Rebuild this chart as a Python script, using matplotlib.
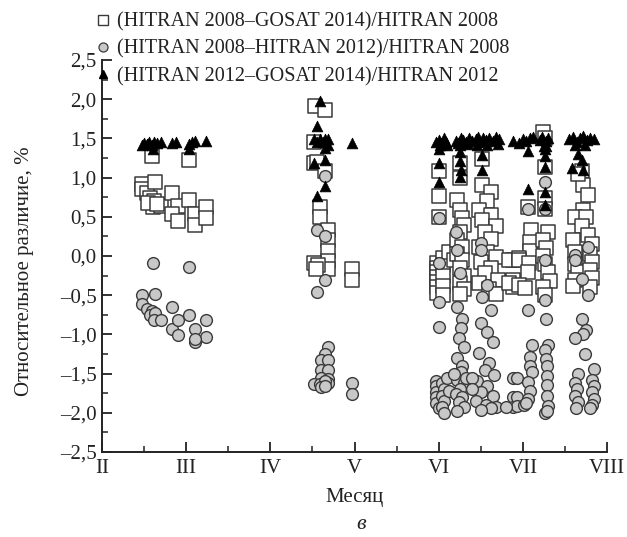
import matplotlib
matplotlib.use("Agg")
import matplotlib.pyplot as plt
from matplotlib.lines import Line2D
from matplotlib.ticker import MultipleLocator, FixedLocator, FuncFormatter

plt.rcParams['font.family'] = ['Liberation Serif', 'DejaVu Serif']

# ---------------- data (month as number: II=2 ... VIII=8, value in %) ----------------
month_ticks = [2, 3, 4, 5, 6, 7, 8]
month_labels = ["II", "III", "IV", "V", "VI", "VII", "VIII"]

labels = ["(HITRAN 2008–GOSAT 2014)/HITRAN 2008",
          "(HITRAN 2008–HITRAN 2012)/HITRAN 2008",
          "(HITRAN 2012–GOSAT 2014)/HITRAN 2012"]

# squares: (HITRAN 2008 - GOSAT 2014)/HITRAN 2008
sq_x = [2.59, 3.03, 2.47, 2.47, 2.53, 2.63, 2.57, 2.62, 2.60, 2.70, 2.83, 2.90, 2.83, 2.90,
        3.03, 3.10, 3.10, 3.23, 3.23, 2.55, 2.65,
        4.53, 4.65, 4.52, 4.52, 4.56, 4.65, 4.59, 4.59, 4.69, 4.69, 4.69, 4.69, 4.69, 4.52,
        4.57, 4.54, 4.97, 4.97,
        6.00, 6.00, 6.00, 5.98, 5.98, 5.98, 5.98, 5.98, 5.98, 5.98, 6.05, 6.05, 6.05, 6.05,
        6.05, 6.12, 6.18,
        6.25, 6.25, 6.22, 6.25, 6.28, 6.30, 6.25, 6.22, 6.28, 6.22, 6.28, 6.25, 6.30, 6.25,
        6.30, 6.25,
        6.52, 6.52, 6.62, 6.58, 6.48, 6.62, 6.52, 6.68, 6.55, 6.62, 6.48, 6.58, 6.68, 6.50,
        6.62, 6.55, 6.70, 6.48, 6.60, 6.68,
        6.88, 6.88, 6.88, 6.84, 6.84,
        7.10, 7.08, 7.08, 6.96, 6.96, 7.07, 7.06, 6.96, 7.03, 7.06,
        7.24, 7.26, 7.26, 7.26, 7.30, 7.24, 7.28, 7.24, 7.26, 7.30, 7.32, 7.24, 7.26, 7.26,
        7.70, 7.72, 7.78, 7.72, 7.62, 7.75, 7.70, 7.78, 7.60, 7.82, 7.62, 7.80, 7.62, 7.82,
        7.65, 7.80, 7.62, 7.82, 7.60, 7.80, 7.66]
sq_y = [1.27, 1.23, 0.92, 0.86, 0.80, 0.94, 0.74, 0.70, 0.63, 0.64, 0.80, 0.64, 0.53, 0.44,
        0.72, 0.53, 0.40, 0.63, 0.48, 0.68, 0.66,
        1.91, 1.86, 1.46, 1.19, 1.20, 1.08, 0.63, 0.50, 0.33, 0.21, 0.06, -0.07, -0.16, -0.09,
        -0.12, -0.16, -0.16, -0.31,
        1.08, 0.76, 0.50, -0.09, -0.15, -0.21, -0.27, -0.33, -0.40, -0.47, -0.02, -0.12, -0.25,
        -0.38, -0.50, 0.05, -0.05,
        1.19, 1.00, 0.72, 0.59, 0.49, 0.40, 0.30, 0.20, 0.12, 0.02, -0.05, -0.15, -0.25, -0.35,
        -0.42, -0.48,
        1.24, 0.91, 0.82, 0.70, 0.59, 0.52, 0.46, 0.38, 0.30, 0.22, 0.12, 0.05, -0.01, -0.08,
        -0.15, -0.22, -0.30, -0.35, -0.42, -0.48,
        -0.05, -0.31, -0.40, -0.05, -0.35,
        0.33, 0.18, 0.06, -0.03, -0.05, -0.09, -0.21, -0.37, -0.41, 0.63,
        1.58, 1.13, 0.74, 0.60, 0.31, 0.20, 0.10, 0.00, -0.10, -0.20, -0.32, -0.40, -0.50, 1.50,
        1.08, 0.91, 0.78, 0.59, 0.50, 0.50, 0.38, 0.27, 0.20, 0.15, 0.05, 0.02, -0.10, -0.08,
        -0.20, -0.18, -0.30, -0.28, -0.38, -0.40, 1.05]

# circles: (HITRAN 2008 - HITRAN 2012)/HITRAN 2008
ci_x = [2.60, 3.03, 2.47, 2.63, 2.47, 2.53, 2.59, 2.57, 2.63, 2.62, 2.70, 2.83, 2.83, 2.90,
        2.90, 3.03, 3.10, 3.10, 3.23, 3.23, 3.10,
        4.65, 4.55, 4.65, 4.65, 4.55, 4.69, 4.65, 4.60, 4.69, 4.60, 4.69, 4.60, 4.69, 4.52,
        4.59, 4.69, 4.65, 4.97, 4.97, 4.60, 4.65,
        6.00, 6.00, 6.00, 6.00, 5.97, 5.97, 5.97, 5.97, 5.97, 6.00, 6.04, 6.06, 6.04, 6.06,
        6.04, 6.06, 6.10, 6.12,
        6.21, 6.22, 6.25, 6.22, 6.28, 6.26, 6.24, 6.30, 6.22, 6.28, 6.26, 6.22, 6.30, 6.25,
        6.20, 6.28, 6.24, 6.30, 6.22, 6.18, 6.33,
        6.50, 6.50, 6.58, 6.52, 6.62, 6.50, 6.58, 6.64, 6.48, 6.60, 6.55, 6.66, 6.45, 6.58,
        6.50, 6.64, 6.44, 6.56, 6.68, 6.62, 6.50, 6.40, 6.40,
        6.88, 6.88, 6.88,
        7.06, 7.06, 7.11, 7.08, 7.08, 7.11, 6.93, 7.06, 7.08, 6.93, 7.06, 6.93, 7.01, 6.80, 7.04,
        7.26, 7.26, 7.26, 7.26, 7.27, 7.30, 7.26, 7.27, 7.29, 7.29, 7.29, 7.29, 7.30, 7.26, 7.29,
        7.78, 7.62, 7.62, 7.70, 7.78, 7.70, 7.75, 7.72, 7.62, 7.74, 7.65, 7.85, 7.62, 7.64,
        7.62, 7.65, 7.63, 7.82, 7.84, 7.82, 7.84, 7.82, 7.80]
ci_y = [-0.09, -0.14, -0.50, -0.48, -0.61, -0.67, -0.70, -0.75, -0.73, -0.82, -0.82, -0.65,
        -0.93, -0.82, -1.01, -0.75, -0.93, -1.10, -0.82, -1.03, -1.06,
        1.02, 0.33, 0.25, -0.31, -0.46, -1.16, -1.25, -1.33, -1.33, -1.46, -1.46, -1.55, -1.57,
        -1.63, -1.63, -1.62, -1.60, -1.62, -1.76, -1.67, -1.66,
        0.49, -0.09, -0.59, -0.91, -1.59, -1.66, -1.73, -1.80, -1.87, -1.94, -1.62, -1.70, -1.78,
        -1.85, -1.92, -2.00, -1.55, -1.72,
        0.31, 0.08, -0.22, -0.65, -0.80, -0.92, -1.05, -1.16, -1.30, -1.40, -1.48, -1.58, -1.62,
        -1.70, -1.76, -1.80, -1.86, -1.92, -1.98, -1.50, -1.55,
        0.17, 0.08, -0.37, -0.52, -0.69, -0.86, -0.97, -1.10, -1.24, -1.36, -1.45, -1.52, -1.60,
        -1.66, -1.74, -1.78, -1.85, -1.90, -1.93, -1.94, -1.97, -1.55, -1.70,
        -1.55, -1.80, -1.93,
        0.60, -0.69, -1.14, -1.29, -1.40, -1.48, -1.55, -1.61, -1.72, -1.80, -1.82, -1.91, -1.90,
        -1.93, -1.87,
        0.95, 0.60, -0.05, -0.56, -0.80, -1.14, -1.20, -1.31, -1.40, -1.53, -1.65, -1.78, -1.91,
        -2.00, -1.98,
        0.12, 0.01, -0.05, -0.29, -0.50, -0.80, -0.95, -1.00, -1.05, -1.25, -1.50, -1.44, -1.62,
        -1.70, -1.78, -1.86, -1.94, -1.58, -1.66, -1.74, -1.82, -1.90, -1.94]

# triangles: (HITRAN 2012 - GOSAT 2014)/HITRAN 2012
tr_x = [2.47, 2.50, 2.53, 2.56, 2.59, 2.62, 2.65, 2.70, 2.83, 2.88, 3.03, 3.07, 3.10, 3.23,
        2.60, 3.03,
        4.59, 4.55, 4.52, 4.59, 4.65, 4.69, 4.62, 4.65, 4.97, 4.52, 4.65, 4.65, 4.55, 4.55, 4.69,
        5.97, 6.00, 6.03, 6.06, 6.09, 6.20, 6.23, 6.26, 6.29, 6.32, 6.36, 6.40, 6.44, 6.47,
        6.50, 6.53, 6.56, 6.60, 6.64, 6.68, 6.72, 6.88, 6.95, 7.00, 7.04, 7.08, 7.12, 7.20,
        7.23, 7.27, 7.30, 7.55, 7.60, 7.64, 7.68, 7.72, 7.76, 7.80, 7.84,
        6.02, 6.10, 6.25, 6.35, 6.45, 6.58, 6.70, 7.25, 7.62, 7.74,
        6.00, 6.00, 6.00, 6.25, 6.25, 6.27, 6.25, 6.52, 6.52, 7.06, 7.06, 7.26, 7.26, 7.26,
        7.26, 7.26, 7.58, 7.70, 7.72, 7.66, 7.28]
tr_y = [1.42, 1.44, 1.43, 1.45, 1.41, 1.46, 1.44, 1.45, 1.44, 1.45, 1.43, 1.46, 1.47, 1.47,
        1.37, 1.37,
        1.98, 1.66, 1.49, 1.49, 1.49, 1.49, 1.46, 1.38, 1.44, 1.19, 1.23, 0.89, 0.77, 1.45, 1.42,
        1.45, 1.48, 1.44, 1.50, 1.46, 1.47, 1.44, 1.50, 1.48, 1.45, 1.51, 1.47, 1.49, 1.52,
        1.46, 1.50, 1.48, 1.51, 1.47, 1.52, 1.49, 1.47, 1.44, 1.49, 1.47, 1.50, 1.52, 1.48,
        1.52, 1.47, 1.50, 1.49, 1.52, 1.46, 1.50, 1.53, 1.48, 1.51, 1.49,
        1.42, 1.41, 1.41, 1.43, 1.42, 1.42, 1.43, 1.40, 1.42, 1.41,
        1.36, 1.19, 0.95, 1.32, 1.21, 1.10, 1.01, 1.29, 1.10, 1.34, 0.85, 1.37, 1.13, 0.82,
        0.65, 1.28, 1.12, 1.23, 1.10, 1.30, 1.40]

# ---------------- figure ----------------
fig = plt.figure(figsize=(6.27, 5.37), dpi=100)
ax = fig.add_axes([0.1627, 0.1583, 0.8054, 0.730])

edge = "#3a3a3a"
ax.scatter(sq_x, sq_y, marker="s", s=100, facecolor="white", edgecolor=edge,
           linewidth=1.1, zorder=2, clip_on=False)
ax.scatter(ci_x, ci_y, marker="o", s=72, facecolor="#c8c8c8", edgecolor=edge,
           linewidth=1.0, zorder=3, clip_on=False)
ax.scatter(tr_x, tr_y, marker="^", s=60, facecolor="black", edgecolor="black",
           linewidth=0.5, zorder=4, clip_on=False)

ax.set_xlim(2, 8)
ax.set_ylim(-2.5, 2.5)

for side in ("top", "right"):
    ax.spines[side].set_visible(False)
for side in ("left", "bottom"):
    ax.spines[side].set_linewidth(1.4)
    ax.spines[side].set_color("#222222")

ax.xaxis.set_major_locator(FixedLocator(month_ticks))
ax.set_xticklabels(month_labels)
ax.xaxis.set_minor_locator(MultipleLocator(0.5))
ax.yaxis.set_major_locator(MultipleLocator(0.5))
ax.yaxis.set_minor_locator(MultipleLocator(0.25))
ax.yaxis.set_major_formatter(FuncFormatter(
    lambda v, p: ("%.1f" % v).replace(".", ",").replace("-", "–")))

ax.tick_params(which="major", direction="in", length=7, width=1.3, labelsize=15,
               colors="#222222", pad=4)
ax.tick_params(which="minor", direction="in", length=4, width=1.1, colors="#222222")
ax.tick_params(axis="x", which="major", pad=5)

ax.set_ylabel("Относительное различие, %", fontsize=15, color="#222222")
ax.yaxis.set_label_coords(-0.134, 0.46)
ax.set_xlabel("Месяц", fontsize=15, color="#222222")
ax.xaxis.set_label_coords(0.5, -0.092)

handles = [Line2D([], [], linestyle="none", marker="s", markersize=6.5,
                  markerfacecolor="white", markeredgecolor=edge, markeredgewidth=1.0),
           Line2D([], [], linestyle="none", marker="o", markersize=6.5,
                  markerfacecolor="#c8c8c8", markeredgecolor=edge, markeredgewidth=0.9),
           Line2D([], [], linestyle="none", marker="^", markersize=5.5,
                  markerfacecolor="black", markeredgecolor="black")]
fig.legend(handles, labels, loc="upper left", bbox_to_anchor=(0.152, 0.977),
           frameon=False, fontsize=14.5, handlelength=0.8, handletextpad=0.3,
           labelspacing=0.4, borderpad=0.0, borderaxespad=0.0, labelcolor="#222222")

fig.text(0.576, 0.024, "в", fontsize=16, style="italic", ha="center", va="center",
         color="#222222")

fig.savefig("out.png", dpi=100)
